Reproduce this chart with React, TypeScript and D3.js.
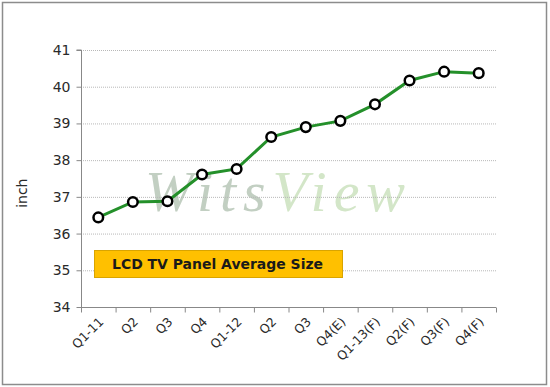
import React, { useEffect, useRef } from 'react'
import * as d3 from 'd3'

// quarters on the x axis
const quarters = ['Q1-11', 'Q2', 'Q3', 'Q4', 'Q1-12', 'Q2', 'Q3', 'Q4(E)', 'Q1-13(F)', 'Q2(F)', 'Q3(F)', 'Q4(F)']
// average panel size, inch
const avgSize = [36.44, 36.86, 36.88, 37.61, 37.76, 38.63, 38.9, 39.07, 39.52, 40.17, 40.41, 40.37]
const yTicks = [34, 35, 36, 37, 38, 39, 40, 41]

const width = 550
const height = 387

export default function App() {
    const svgRef = useRef<SVGSVGElement>(null)

    useEffect(() => {
        const svg = d3.select(svgRef.current)
        svg.selectAll('*').remove()

        const left = 81
        const right = 496
        const top = 50
        const bottom = 307

        // border of the whole picture
        svg.append('rect')
            .attr('x', 2.5).attr('y', 2.5)
            .attr('width', 544).attr('height', 382)
            .attr('fill', '#fff')
            .attr('stroke', '#8c8c8c')
            .attr('stroke-width', 1.5)

        const xScale = d3.scaleBand<number>()
            .domain(d3.range(quarters.length))
            .range([left, right])

        const yScale = d3.scaleLinear()
            .domain([34, 41])
            .range([bottom, top])

        // watermark
        const wm = svg.append('text')
            .attr('x', 145).attr('y', 211)
            .attr('font-family', '"Liberation Serif", serif')
            .attr('font-style', 'italic')
            .attr('font-size', 58)
            .attr('textLength', 260)
            .attr('lengthAdjust', 'spacing')
        wm.append('tspan').attr('fill', '#c2cfc2').text('Wits')
        wm.append('tspan').attr('fill', '#d3e6c8').text('View')

        // dotted grid
        svg.append('g')
            .selectAll('line')
            .data(yTicks.filter(d => d > 34))
            .join('line')
                .attr('x1', left).attr('x2', right)
                .attr('y1', d => yScale(d) + 0.5).attr('y2', d => yScale(d) + 0.5)
                .attr('stroke', '#b8b8b8')
                .attr('stroke-dasharray', '1,1')

        // y axis
        svg.append('g')
            .attr('transform', `translate(${left + 0.5},0)`)
            .call(d3.axisLeft(yScale).tickValues(yTicks).tickSize(5).tickPadding(6).tickFormat(d3.format('d')))
            .call(g => g.select('.domain').attr('stroke', '#888').attr('d', `M-5,${yScale(41)}H0V${yScale(34)}`))
            .call(g => g.selectAll('.tick line').attr('stroke', '#888'))
            .call(g => g.selectAll('.tick text')
                .attr('font-family', '"DejaVu Sans", sans-serif')
                .attr('font-size', 14)
                .attr('fill', '#2a2a2a'))

        // x axis, ticks between the categories
        const xAxis = svg.append('g')
            .attr('transform', `translate(0,${bottom + 0.5})`)
        xAxis.append('line')
            .attr('x1', left).attr('x2', right)
            .attr('stroke', '#888')
        xAxis.selectAll('line.tk')
            .data(d3.range(quarters.length + 1))
            .join('line')
                .attr('class', 'tk')
                .attr('x1', i => left + i * xScale.step() + 0.5)
                .attr('x2', i => left + i * xScale.step() + 0.5)
                .attr('y1', 0).attr('y2', 5)
                .attr('stroke', '#888')
        xAxis.selectAll('text')
            .data(quarters)
            .join('text')
                .attr('transform', (d, i) => `translate(${xScale(i)! + xScale.bandwidth() / 2 + 6},${15}) rotate(-45)`)
                .attr('text-anchor', 'end')
                .attr('font-family', '"DejaVu Sans", sans-serif')
                .attr('font-size', 12.5)
                .attr('fill', '#2a2a2a')
                .text(d => d)

        // axis title
        svg.append('text')
            .attr('transform', `translate(27,${yScale(37.1)}) rotate(-90)`)
            .attr('text-anchor', 'middle')
            .attr('font-family', '"DejaVu Sans", sans-serif')
            .attr('font-size', 14)
            .attr('fill', '#2a2a2a')
            .text('inch')

        // label box
        svg.append('rect')
            .attr('x', 94.5).attr('y', 250.5)
            .attr('width', 248).attr('height', 27)
            .attr('fill', '#ffc000')
            .attr('stroke', '#d9a400')
        svg.append('text')
            .attr('x', 112).attr('y', 269)
            .attr('font-family', '"DejaVu Sans", sans-serif')
            .attr('font-weight', 'bold')
            .attr('font-size', 14)
            .attr('textLength', 211)
            .attr('lengthAdjust', 'spacingAndGlyphs')
            .attr('fill', '#1a1a1a')
            .text('LCD TV Panel Average Size')

        const cx = (i: number) => xScale(i)! + xScale.bandwidth() / 2

        const line = d3.line<number>()
            .x((d, i) => cx(i))
            .y(d => yScale(d))

        svg.append('path')
            .datum(avgSize)
            .attr('d', line)
            .attr('fill', 'none')
            .attr('stroke', '#24902a')
            .attr('stroke-width', 3)

        svg.append('g')
            .selectAll('circle')
            .data(avgSize)
            .join('circle')
                .attr('cx', (d, i) => cx(i))
                .attr('cy', d => yScale(d))
                .attr('r', 4.8)
                .attr('fill', '#fff')
                .attr('stroke', '#000')
                .attr('stroke-width', 2.5)
    }, [])

    return (
        <div style={{ position: 'absolute', left: 0, top: 0 }}>
            <svg ref={svgRef} width={width} height={height} style={{ display: 'block' }} />
        </div>
    )
}
